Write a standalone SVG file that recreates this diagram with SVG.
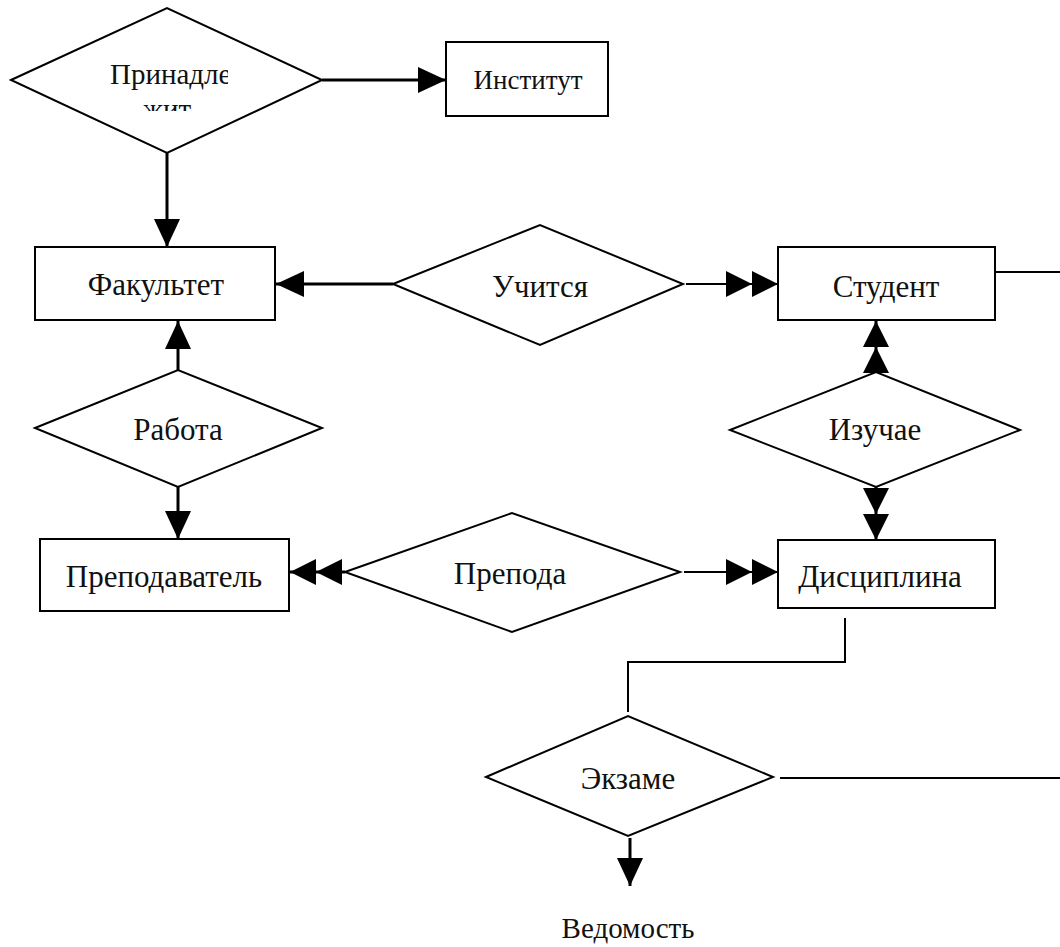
<svg xmlns="http://www.w3.org/2000/svg" width="1060" height="947" viewBox="0 0 1060 947">
<style>
.shape{fill:#fff;stroke:#000;stroke-width:2}
.lbl{font-family:"Liberation Serif","Times New Roman",serif;font-size:31px;fill:#111;text-anchor:middle}
.sm{font-size:29px}
.xs{font-size:27px}
.con{fill:none;stroke:#000;stroke-width:3}
.thin{fill:none;stroke:#000;stroke-width:2}
</style>
<defs>
<marker id="a1" viewBox="0 0 28 26" refX="28" refY="13" markerWidth="28" markerHeight="26" markerUnits="userSpaceOnUse" orient="auto">
<path d="M0,0 L28,13 L0,26 Z" fill="#000"/>
</marker>
<marker id="a2" viewBox="0 0 52 26" refX="52" refY="13" markerWidth="52" markerHeight="26" markerUnits="userSpaceOnUse" orient="auto">
<path d="M0,0 L26,13 L0,26 Z M26,0 L52,13 L26,26 Z" fill="#000"/>
</marker>
<clipPath id="clipP"><rect x="100" y="45" width="128" height="66"/></clipPath>
</defs>
<g id="connectors">
<line class="con" x1="322" y1="80" x2="446" y2="80" marker-end="url(#a1)"/>
<line class="con" x1="167" y1="153" x2="167" y2="247" marker-end="url(#a1)"/>
<line class="con" x1="393" y1="284" x2="276" y2="284" marker-end="url(#a1)"/>
<line class="thin" x1="686" y1="284" x2="778" y2="284" marker-end="url(#a2)"/>
<line class="thin" x1="995" y1="272" x2="1060" y2="272"/>
<line class="con" x1="178" y1="370" x2="178" y2="321" marker-end="url(#a1)"/>
<line class="con" x1="178" y1="487" x2="178" y2="539" marker-end="url(#a1)"/>
<line class="con" x1="345" y1="572" x2="290" y2="572" marker-end="url(#a2)"/>
<line class="thin" x1="684" y1="572" x2="778" y2="572" marker-end="url(#a2)"/>
<line class="con" x1="876" y1="372" x2="876" y2="321" marker-end="url(#a2)"/>
<line class="con" x1="876" y1="487" x2="876" y2="540" marker-end="url(#a2)"/>
<polyline class="thin" points="845,618 845,662 628,662 628,712"/>
<line class="thin" x1="780" y1="778" x2="1060" y2="778"/>
<line class="con" x1="630" y1="838" x2="630" y2="886" marker-end="url(#a1)"/>
</g>
<g id="n-prinadlezhit">
<polygon class="shape" points="11,80 167,8 322,80 167,153"/>
<g clip-path="url(#clipP)">
<text class="lbl sm" x="110" y="84" style="text-anchor:start">Принадле</text>
<text class="lbl sm" x="167" y="119">жит</text>
</g>
</g>
<g id="n-institut">
<rect class="shape" x="446" y="42" width="162" height="74"/>
<text class="lbl xs" x="528" y="89">Институт</text>
</g>
<g id="n-fakultet">
<rect class="shape" x="35" y="247" width="240" height="73"/>
<text class="lbl" x="156" y="295">Факультет</text>
</g>
<g id="n-uchitsya">
<polygon class="shape" points="393,284 540,225 683,284 540,345"/>
<text class="lbl" x="540" y="297">Учится</text>
</g>
<g id="n-student">
<rect class="shape" x="778" y="247" width="217" height="73"/>
<text class="lbl" x="886" y="297">Студент</text>
</g>
<g id="n-rabota">
<polygon class="shape" points="35,428 178,370 322,428 178,487"/>
<text class="lbl" x="178" y="440">Работа</text>
</g>
<g id="n-izuchaet">
<polygon class="shape" points="730,430 876,372 1020,430 876,487"/>
<text class="lbl" x="875" y="440">Изучае</text>
</g>
<g id="n-prepodavatel">
<rect class="shape" x="40" y="539" width="249" height="72"/>
<text class="lbl" x="164" y="587">Преподаватель</text>
</g>
<g id="n-prepodaet">
<polygon class="shape" points="345,572 512,513 680,572 512,632"/>
<text class="lbl" x="510" y="584">Препода</text>
</g>
<g id="n-disciplina">
<rect class="shape" x="778" y="540" width="217" height="68"/>
<text class="lbl" x="880" y="587">Дисциплина</text>
</g>
<g id="n-ekzamen">
<polygon class="shape" points="486,777 628,716 773,777 628,836"/>
<text class="lbl" x="628" y="789">Экзаме</text>
</g>
<g id="n-vedomost">
<text class="lbl sm" x="628" y="938">Ведомость</text>
</g>
</svg>
